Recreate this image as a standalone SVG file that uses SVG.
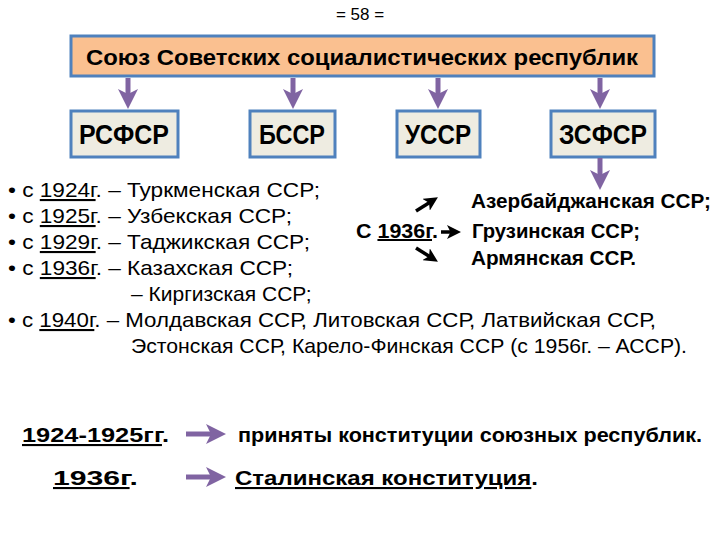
<svg xmlns="http://www.w3.org/2000/svg" width="720" height="540" viewBox="0 0 720 540">
<style>
text{font-family:"Liberation Sans","Open Sans",sans-serif;fill:#000}
.b{font-weight:bold}
.u{text-decoration:underline}
.box{fill:#EEECE1;stroke:#4F81BD;stroke-width:3}
.pa{stroke:#8064A2;stroke-width:5;fill:none}
.ba{stroke:#000;stroke-width:3.5;fill:none}
</style>
<defs>
<marker id="pm" markerWidth="4" markerHeight="4" refX="2" refY="2" orient="auto" markerUnits="strokeWidth"><path d="M0,0 L4,2 L0,4 L1,2 Z" fill="#8064A2"/></marker>
<marker id="bm" markerWidth="4" markerHeight="4" refX="2" refY="2" orient="auto" markerUnits="strokeWidth"><path d="M0,0 L4,2 L0,4 L1,2 Z" fill="#000"/></marker>
</defs>
<rect width="720" height="540" fill="#fff"/>
<text x="360" y="20" text-anchor="middle" font-size="17">= 58 =</text>
<g id="ussr"><rect x="71" y="36" width="583" height="40" fill="#FAC090" stroke="#4F81BD" stroke-width="3"/><text x="362" y="65" text-anchor="middle" font-size="22" class="b" textLength="552" lengthAdjust="spacingAndGlyphs">Союз Советских социалистических республик</text></g>
<g id="rsfsr"><rect class="box" x="71" y="111" width="107" height="46"/><text x="124" y="144" text-anchor="middle" font-size="27" class="b" textLength="90" lengthAdjust="spacingAndGlyphs">РСФСР</text></g>
<g id="bssr"><rect class="box" x="250" y="111" width="85" height="46"/><text x="292" y="144" text-anchor="middle" font-size="27" class="b" textLength="66" lengthAdjust="spacingAndGlyphs">БССР</text></g>
<g id="ussr2"><rect class="box" x="397" y="111" width="83" height="46"/><text x="438" y="144" text-anchor="middle" font-size="27" class="b" textLength="66" lengthAdjust="spacingAndGlyphs">УССР</text></g>
<g id="zsfsr"><rect class="box" x="551" y="111" width="104" height="46"/><text x="603" y="144" text-anchor="middle" font-size="27" class="b" textLength="88" lengthAdjust="spacingAndGlyphs">ЗСФСР</text></g>
<g id="connectors">
<line class="pa" x1="128" y1="78" x2="128" y2="99" marker-end="url(#pm)"/>
<line class="pa" x1="293" y1="78" x2="293" y2="99" marker-end="url(#pm)"/>
<line class="pa" x1="438" y1="78" x2="438" y2="99" marker-end="url(#pm)"/>
<line class="pa" x1="600" y1="78" x2="600" y2="99" marker-end="url(#pm)"/>
<line class="pa" x1="600" y1="158" x2="600" y2="180" marker-end="url(#pm)"/>
<line class="ba" x1="416" y1="211" x2="432" y2="201" marker-end="url(#bm)"/>
<line class="ba" x1="441" y1="232" x2="454" y2="232" marker-end="url(#bm)"/>
<line class="ba" x1="416" y1="248" x2="432" y2="258" marker-end="url(#bm)"/>
<line class="pa" x1="186" y1="434" x2="216" y2="434" marker-end="url(#pm)"/>
<line class="pa" x1="186" y1="477" x2="216" y2="477" marker-end="url(#pm)"/>
</g>
<g font-size="21">
<text x="8" y="197" textLength="312" lengthAdjust="spacingAndGlyphs">• с <tspan class="u">1924г</tspan>. – Туркменская ССР;</text>
<text x="8" y="223" textLength="284" lengthAdjust="spacingAndGlyphs">• с <tspan class="u">1925г</tspan>. – Узбекская ССР;</text>
<text x="8" y="249" textLength="302" lengthAdjust="spacingAndGlyphs">• с <tspan class="u">1929г</tspan>. – Таджикская ССР;</text>
<text x="8" y="275" textLength="285" lengthAdjust="spacingAndGlyphs">• с <tspan class="u">1936г</tspan>. – Казахская ССР;</text>
<text x="131" y="301">– Киргизская ССР;</text>
<text x="8" y="327" textLength="648" lengthAdjust="spacingAndGlyphs">• с <tspan class="u">1940г</tspan>. – Молдавская ССР, Литовская ССР, Латвийская ССР,</text>
<text x="131" y="353" textLength="556" lengthAdjust="spacingAndGlyphs">Эстонская ССР, Карело-Финская ССР (с 1956г. – АССР).</text>
</g>
<g font-size="20" class="b">
<text x="471" y="208" textLength="240" lengthAdjust="spacingAndGlyphs">Азербайджанская ССР;</text>
<text x="356" y="238" textLength="82" lengthAdjust="spacingAndGlyphs">С <tspan class="u">1936г</tspan>.</text>
<text x="472" y="238" textLength="168" lengthAdjust="spacingAndGlyphs">Грузинская ССР;</text>
<text x="471" y="265" textLength="165" lengthAdjust="spacingAndGlyphs">Армянская ССР.</text>
</g>
<g font-size="21" class="b">
<text x="22" y="442" textLength="147" lengthAdjust="spacingAndGlyphs"><tspan class="u">1924-1925гг</tspan>.</text>
<text x="238" y="442" textLength="464" lengthAdjust="spacingAndGlyphs">приняты конституции союзных республик.</text>
<text x="53" y="485" textLength="85" lengthAdjust="spacingAndGlyphs"><tspan class="u">1936г</tspan>.</text>
<text x="235" y="485" textLength="303" lengthAdjust="spacingAndGlyphs"><tspan class="u">Сталинская конституция</tspan>.</text>
</g>
</svg>
